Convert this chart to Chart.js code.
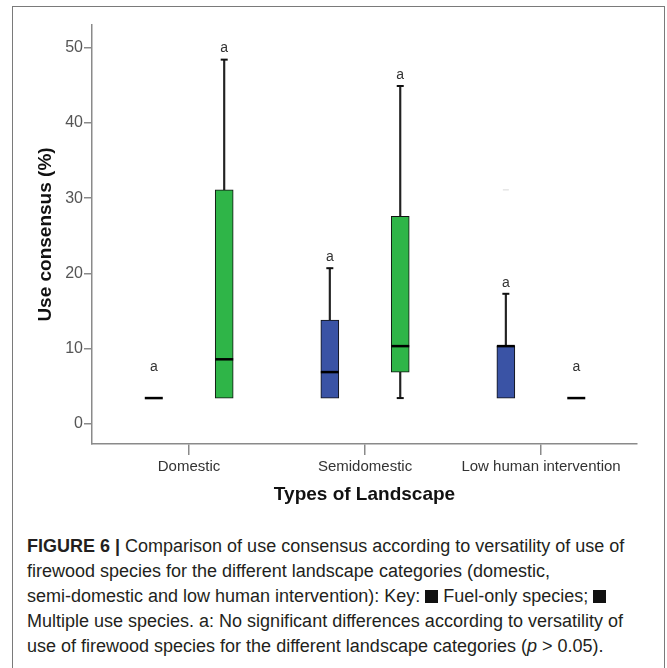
<!DOCTYPE html>
<html>
<head>
<meta charset="utf-8">
<script src="https://cdn.jsdelivr.net/npm/chart.js@4.4.1/dist/chart.umd.min.js"></script>
<style>
  html, body { margin: 0; padding: 0; background: #fff; width: 667px; height: 668px; overflow: hidden; }
  #frame { position: absolute; left: 12px; top: 6px; width: 651px; height: 700px;
           border: 1.5px solid #7a7a7a; border-bottom: none; }
  #wrap { position: absolute; left: 13px; top: 7px; width: 652px; height: 520px; }
  #caption { position: absolute; left: 27px; top: 534px; font-family: "Liberation Sans", Arial, sans-serif;
             font-size: 18px; line-height: 25px; color: #231f20; white-space: nowrap; }
  #caption b { font-weight: bold; }
  .key { display: inline-block; width: 13px; height: 13px; background: #111; vertical-align: -1px; }
</style>
</head>
<body>
<div id="frame"></div>
<div id="wrap"><canvas id="chart" width="652" height="520"></canvas></div>
<div id="caption">
  <b>FIGURE 6 |</b> Comparison of use consensus according to versatility of use of<br>
  firewood species for the different landscape categories (domestic,<br>
  semi-domestic and low human intervention): Key: <span class="key"></span> Fuel-only species; <span class="key"></span><br>
  Multiple use species. a: No significant differences according to versatility of<br>
  use of firewood species for the different landscape categories (<i>p</i> &gt; 0.05).
</div>
<script>
// landscape categories
var categories = ["Domestic", "Semidomestic", "Low human intervention"];

// Fuel-only species (blue)
var fuelMin    = [3.45, 3.45, 3.45];
var fuelQ1     = [3.45, 3.45, 3.45];
var fuelMedian = [3.45, 6.9, 10.35];
var fuelQ3     = [3.45, 13.8, 10.35];
var fuelMax    = [3.45, 20.7, 17.3];
var fuelOutliers = [null, null, 31.1];

// Multiple use species (green)
var multiMin    = [3.45, 3.45, 3.45];
var multiQ1     = [3.45, 6.9, 3.45];
var multiMedian = [8.6, 10.35, 3.45];
var multiQ3     = [31.1, 27.6, 3.45];
var multiMax    = [48.4, 44.9, 3.45];

// significance letters
var fuelLetters  = ["a", "a", "a"];
var multiLetters = ["a", "a", "a"];

var yTicks = [0, 10, 20, 30, 40, 50];

var BLUE = "#3a53a5";
var GREEN = "#2fb548";
var SHIFT = 0.2; // group offset in category units

function xOf(i, side) { return i + 1 + side * SHIFT; }

function boxes(q1, q3, side) {
  var out = [];
  q1.forEach(function (v, i) {
    if (q3[i] > v) out.push({ x: xOf(i, side), y: [v, q3[i]] });
  });
  return out;
}
function whiskers(q1, q3, min, max, side) {
  var out = [];
  q1.forEach(function (v, i) {
    if (max[i] > q3[i]) out.push({ x: xOf(i, side), y: [q3[i], max[i]] });
    if (min[i] < v) out.push({ x: xOf(i, side), y: [min[i], v] });
  });
  return out;
}
function caps(q1, q3, min, max, side) {
  var out = [];
  q1.forEach(function (v, i) {
    if (max[i] > q3[i]) out.push({ x: xOf(i, side), y: max[i] });
    if (min[i] < v) out.push({ x: xOf(i, side), y: min[i] });
  });
  return out;
}
function medians(med, side) {
  return med.map(function (v, i) { return { x: xOf(i, side), y: v }; });
}
function outliers(arr, side) {
  var out = [];
  arr.forEach(function (v, i) { if (v !== null) out.push({ x: xOf(i, side), y: v }); });
  return out;
}

var letterPlugin = {
  id: "letters",
  afterDatasetsDraw: function (chart) {
    var ctx = chart.ctx, xs = chart.scales.x, ys = chart.scales.y;
    ctx.save();
    ctx.font = "14px 'Liberation Sans', Arial, sans-serif";
    ctx.fillStyle = "#333";
    ctx.textAlign = "center";
    ctx.textBaseline = "middle";
    function draw(letters, min, max, side) {
      letters.forEach(function (t, i) {
        var flat = max[i] === min[i];
        var px = xs.getPixelForValue(xOf(i, side));
        var py = ys.getPixelForValue(max[i]) - (flat ? 31 : 11);
        ctx.fillText(t, px, py);
      });
    }
    draw(fuelLetters, fuelMin, fuelMax, -1);
    draw(multiLetters, multiMin, multiMax, 1);
    ctx.restore();
  }
};

var axisColor = "#8a8a8a";

new Chart(document.getElementById("chart"), {
  type: "bar",
  data: {
    datasets: [
      { type: "scatter", data: medians(fuelMedian, -1), pointStyle: "line", radius: 9,
        borderColor: "#000", borderWidth: 2.5, order: 0 },
      { type: "scatter", data: medians(multiMedian, 1), pointStyle: "line", radius: 9,
        borderColor: "#000", borderWidth: 2.5, order: 0 },
      { type: "scatter", data: caps(fuelQ1, fuelQ3, fuelMin, fuelMax, -1), pointStyle: "line", radius: 3.5,
        borderColor: "#111", borderWidth: 2, order: 1 },
      { type: "scatter", data: caps(multiQ1, multiQ3, multiMin, multiMax, 1), pointStyle: "line", radius: 3.5,
        borderColor: "#111", borderWidth: 2, order: 1 },
      { type: "scatter", data: outliers(fuelOutliers, -1), pointStyle: "line", radius: 3,
        borderColor: "#d8d8d8", borderWidth: 1, order: 1 },
      { label: "Fuel-only species", data: boxes(fuelQ1, fuelQ3, -1), backgroundColor: BLUE,
        borderColor: "#111", borderWidth: 1, borderSkipped: false, barThickness: 18, grouped: false, order: 2 },
      { label: "Multiple use species", data: boxes(multiQ1, multiQ3, 1), backgroundColor: GREEN,
        borderColor: "#111", borderWidth: 1, borderSkipped: false, barThickness: 18, grouped: false, order: 2 },
      { data: whiskers(fuelQ1, fuelQ3, fuelMin, fuelMax, -1), backgroundColor: "#222",
        barThickness: 1.5, grouped: false, order: 3 },
      { data: whiskers(multiQ1, multiQ3, multiMin, multiMax, 1), backgroundColor: "#222",
        barThickness: 1.5, grouped: false, order: 3 }
    ]
  },
  options: {
    responsive: false,
    animation: false,
    layout: { padding: { left: 17, right: 28, top: 18, bottom: 17 } },
    plugins: { legend: { display: false }, tooltip: { enabled: false } },
    scales: {
      x: {
        type: "linear",
        offset: false,
        min: 0.449,
        max: 3.545,
        afterBuildTicks: function (scale) {
          scale.ticks = categories.map(function (c, i) { return { value: i + 1 }; });
        },
        afterFit: function (scale) { scale.height = 66; },
        ticks: {
          autoSkip: false, maxRotation: 0, padding: 3,
          color: "#333",
          font: { family: "'Liberation Sans', Arial, sans-serif", size: 15 },
          callback: function (v) { return categories[v - 1]; }
        },
        grid: { drawOnChartArea: false, offset: false, tickLength: 11, color: axisColor, lineWidth: 1.5 },
        border: { color: axisColor, width: 1.5 },
        title: {
          display: true, text: "Types of Landscape", color: "#111",
          font: { family: "'Liberation Sans', Arial, sans-serif", size: 19, weight: "bold" },
          padding: { top: 0, bottom: 4 }
        }
      },
      y: {
        min: -2.65,
        max: 53,
        afterBuildTicks: function (scale) {
          scale.ticks = yTicks.map(function (v) { return { value: v }; });
        },
        afterFit: function (scale) { scale.width = 62; },
        ticks: {
          padding: 1, color: "#555",
          font: { family: "'Liberation Sans', Arial, sans-serif", size: 16 }
        },
        grid: { drawOnChartArea: false, tickLength: 8, color: axisColor, lineWidth: 1.5 },
        border: { color: axisColor, width: 1.5 },
        title: {
          display: true, text: "Use consensus (%)", color: "#111",
          font: { family: "'Liberation Sans', Arial, sans-serif", size: 19, weight: "bold" },
          padding: { top: 4, bottom: 0 }
        }
      }
    }
  },
  plugins: [letterPlugin]
});
</script>
</body>
</html>
